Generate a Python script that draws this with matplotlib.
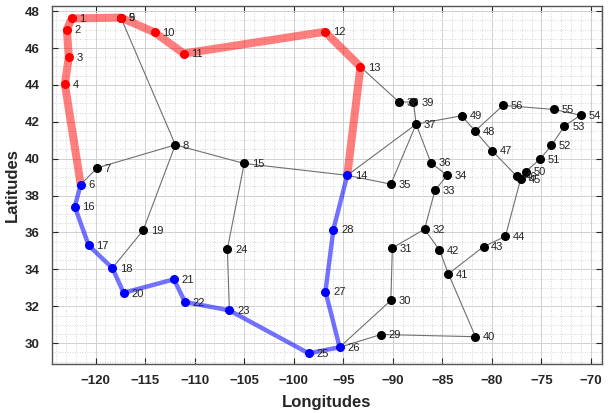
import matplotlib
matplotlib.use("Agg")
import matplotlib.pyplot as plt
from matplotlib.ticker import MultipleLocator

# node coordinates (longitude, latitude)
node_ids = list(range(1, 57))
lons = [-122.4, -122.9, -122.7, -123.1, -117.45, -121.5, -119.85, -111.95, -117.45, -114.05,
        -111.1, -96.85, -93.27, -94.6, -105.0, -122.1, -120.7, -118.3, -115.2, -117.17,
        -112.1, -110.97, -106.5, -106.7, -98.5, -95.37, -96.8, -96.0, -91.2, -90.2,
        -90.05, -86.8, -85.75, -84.52, -90.2, -86.16, -87.65, -89.4, -87.92, -81.66,
        -84.39, -85.3, -80.85, -78.64, -77.1, -77.5, -80.0, -81.7, -83.05, -76.6,
        -75.17, -74.0, -72.68, -71.06, -73.76, -78.88]
lats = [47.6, 47.0, 45.5, 44.05, 47.65, 38.6, 39.5, 40.75, 47.65, 46.85,
        45.7, 46.88, 44.98, 39.1, 39.74, 37.4, 35.3, 34.07, 36.12, 32.73,
        33.46, 32.23, 31.78, 35.1, 29.45, 29.78, 32.8, 36.16, 30.47, 32.32,
        35.16, 36.18, 38.28, 39.1, 38.62, 39.78, 41.87, 43.08, 43.07, 30.35,
        33.76, 35.05, 35.23, 35.79, 38.9, 39.05, 40.44, 41.5, 42.33, 39.3,
        39.96, 40.72, 41.77, 42.36, 42.67, 42.89]

edges = [(9, 8), (8, 7), (7, 6), (8, 15), (8, 19), (19, 18), (15, 14), (15, 24), (24, 23),
         (13, 38), (38, 39), (39, 37), (37, 14), (37, 35), (37, 36), (37, 49), (14, 35),
         (36, 34), (34, 33), (33, 32), (32, 31), (32, 42), (31, 30), (30, 26), (26, 29),
         (29, 40), (40, 41), (41, 42), (41, 43), (43, 44), (44, 45), (49, 48), (48, 56),
         (48, 47), (47, 46), (46, 45), (45, 50), (50, 51), (51, 52), (52, 53), (53, 54),
         (54, 55), (55, 56)]

red_path = [14, 13, 12, 11, 10, 9, 1, 2, 3, 4, 6]
blue_path = [6, 16, 17, 18, 20, 21, 22, 23, 25, 26, 27, 28, 14]

pos = {n: (x, y) for n, x, y in zip(node_ids, lons, lats)}

plt.rcParams['font.family'] = ['Liberation Sans', 'DejaVu Sans']

fig = plt.figure(figsize=(6.08, 4.13), dpi=100)
ax = fig.add_axes([0.0855, 0.1186, 0.9045, 0.867])

# network edges
for a, b in edges:
    ax.plot([pos[a][0], pos[b][0]], [pos[a][1], pos[b][1]], color='#707070', lw=0.8, zorder=2)

# the two routes
ax.plot([pos[n][0] for n in red_path], [pos[n][1] for n in red_path],
        color=(1, 0, 0), alpha=0.5, lw=5.8, solid_capstyle='round', solid_joinstyle='round', zorder=3)
ax.plot([pos[n][0] for n in blue_path], [pos[n][1] for n in blue_path],
        color=(0, 0, 1), alpha=0.55, lw=3.2, solid_capstyle='round', solid_joinstyle='round', zorder=3)

red_nodes = set(red_path) - {6, 14}
blue_nodes = set(blue_path)
for n in node_ids:
    if n in red_nodes:
        c = 'red'
    elif n in blue_nodes:
        c = 'blue'
    else:
        c = 'black'
    ax.plot(pos[n][0], pos[n][1], 'o', color=c, ms=5.5, zorder=4)
    ax.annotate(str(n), pos[n], xytext=(5.5, -0.5), textcoords='offset points',
                va='center', ha='left', fontsize=8, color='#222222', zorder=5)

ax.set_xlim(-124.4, -68.9)
ax.set_ylim(28.87, 48.28)
ax.xaxis.set_major_locator(MultipleLocator(5))
ax.xaxis.set_minor_locator(MultipleLocator(1))
ax.yaxis.set_major_locator(MultipleLocator(2))
ax.yaxis.set_minor_locator(MultipleLocator(0.5))
ax.grid(which='major', color='#d0d0d0', lw=0.7)
ax.grid(which='minor', color='#c8c8c8', lw=0.6, ls=(0, (1, 2)))
ax.set_axisbelow(True)

ax.tick_params(which='major', direction='in', length=4, top=True, right=True,
               labelsize=9.5, colors='#262626', width=0.8)
ax.tick_params(axis='x', which='major', pad=8)
ax.tick_params(axis='y', which='major', pad=9)
ax.tick_params(which='minor', length=0)
for lbl in ax.get_xticklabels() + ax.get_yticklabels():
    lbl.set_fontweight('bold')
for s in ax.spines.values():
    s.set_color('#555555')
    s.set_linewidth(1.0)

ax.set_xlabel('Longitudes', fontsize=12, fontweight='bold', color='#262626', labelpad=6)
ax.set_ylabel('Latitudes', fontsize=12, fontweight='bold', color='#262626', labelpad=3)

fig.savefig('out.png', dpi=100)
